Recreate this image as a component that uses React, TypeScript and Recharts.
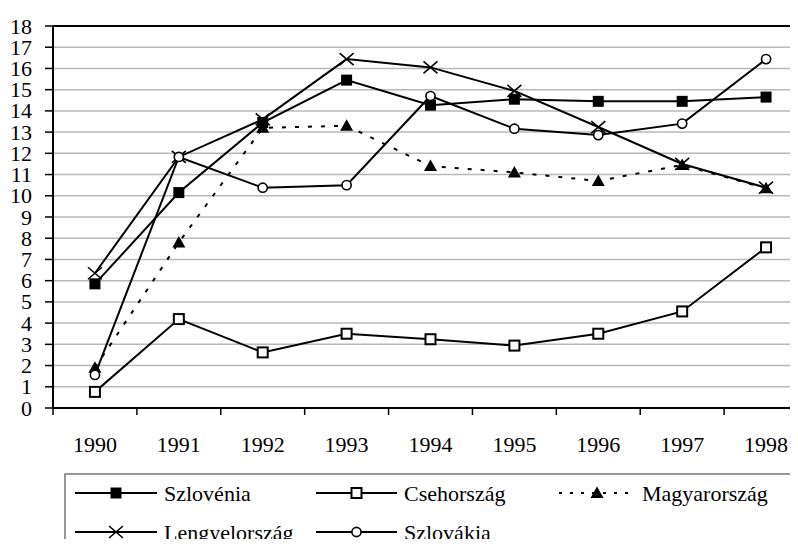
import React from "react";
import { LineChart, Line, XAxis, YAxis, CartesianGrid, ReferenceLine } from "recharts";

const YEARS = ["1990", "1991", "1992", "1993", "1994", "1995", "1996", "1997", "1998"];
const SZLOVENIA = [5.85, 10.15, 13.45, 15.45, 14.27, 14.55, 14.45, 14.45, 14.65];
const CSEHORSZAG = [0.76, 4.19, 2.62, 3.5, 3.24, 2.94, 3.5, 4.55, 7.57];
const MAGYARORSZAG = [1.9, 7.8, 13.2, 13.3, 11.4, 11.1, 10.7, 11.45, 10.35];
const LENGYELORSZAG = [6.35, 11.83, 13.6, 16.44, 16.05, 14.94, 13.24, 11.5, 10.38];
const SZLOVAKIA = [1.56, 11.83, 10.38, 10.5, 14.7, 13.16, 12.86, 13.4, 16.44];
const Y_TICKS = [0, 1, 2, 3, 4, 5, 6, 7, 8, 9, 10, 11, 12, 13, 14, 15, 16, 17, 18];

type Kind = "fsquare" | "osquare" | "triangle" | "cross" | "circle";

const SERIES: { key: string; name: string; kind: Kind; dashed: boolean; values: number[] }[] = [
  { key: "slo", name: "Szlovénia", kind: "fsquare", dashed: false, values: SZLOVENIA },
  { key: "cz", name: "Csehország", kind: "osquare", dashed: false, values: CSEHORSZAG },
  { key: "hu", name: "Magyarország", kind: "triangle", dashed: true, values: MAGYARORSZAG },
  { key: "pl", name: "Lengyelország", kind: "cross", dashed: false, values: LENGYELORSZAG },
  { key: "sk", name: "Szlovákia", kind: "circle", dashed: false, values: SZLOVAKIA },
];

const data = YEARS.map((year, i) => {
  const row: Record<string, string | number> = { year };
  for (const s of SERIES) row[s.key] = s.values[i];
  return row;
});

const W = 820;
const H = 539;
const MARGIN = { top: 18, right: 20, left: 5, bottom: 99 };
const Y_W = 40;
const PLOT_W = W - MARGIN.left - MARGIN.right - Y_W;
const FONT = "Liberation Serif, Times New Roman, DejaVu Serif, serif";
const textStyle: React.CSSProperties = { fontFamily: FONT, fontSize: 22 };

function marker(kind: Kind, cx: number, cy: number, key?: string | number) {
  switch (kind) {
    case "fsquare":
      return <rect key={key} x={cx - 5.5} y={cy - 5.5} width={11} height={11} fill="#000" />;
    case "osquare":
      return <rect key={key} x={cx - 5} y={cy - 5} width={10} height={10} fill="#fff" stroke="#000" strokeWidth={2} />;
    case "triangle":
      return <path key={key} d={`M${cx},${cy - 6.5} L${cx + 6.5},${cy + 5} L${cx - 6.5},${cy + 5} Z`} fill="#000" />;
    case "cross":
      return (
        <path key={key} d={`M${cx - 7},${cy - 6} L${cx + 7},${cy + 6} M${cx - 7},${cy + 6} L${cx + 7},${cy - 6}`}
              stroke="#000" strokeWidth={1.6} fill="none" />
      );
    default:
      return <circle key={key} cx={cx} cy={cy} r={4.6} fill="#fff" stroke="#000" strokeWidth={1.6} />;
  }
}

function YearTick(props: any) {
  const { x, y, payload } = props;
  const half = PLOT_W / YEARS.length / 2;
  return (
    <g>
      <line x1={x - half} x2={x - half} y1={y} y2={y + 7} stroke="#000" strokeWidth={1.5} />
      <text x={x} y={y + 36} textAnchor="middle" dominantBaseline="central" style={textStyle} fill="#000">
        {payload.value}
      </text>
    </g>
  );
}

function ValueTick(props: any) {
  const { x, y, payload } = props;
  return (
    <text x={x} y={y} textAnchor="end" dominantBaseline="central" style={textStyle} fill="#000">
      {payload.value}
    </text>
  );
}

// legend layout: columns (x start, line length) and row centres
const LEG_COLS = [{ x: 67, len: 82 }, { x: 308, len: 81 }, { x: 551, len: 76 }];
const LEG_ROWS = [485, 524];

function LegendBox() {
  return (
    <svg width={W} height={H} style={{ position: "absolute", left: 0, top: 0, pointerEvents: "none" }}>
      <rect x={57} y={466} width={728} height={120} fill="#fff" stroke="#777" strokeWidth={1.5} />
      {SERIES.map((s, i) => {
        const c = LEG_COLS[i % 3];
        const cy = LEG_ROWS[Math.floor(i / 3)];
        return (
          <g key={s.key}>
            <line x1={c.x} x2={c.x + c.len} y1={cy} y2={cy} stroke="#000" strokeWidth={s.dashed ? 1.8 : 2}
                  strokeDasharray={s.dashed ? "3 8" : undefined} />
            {marker(s.kind, c.x + c.len / 2, cy)}
            <text x={c.x + c.len + 7} y={cy} dominantBaseline="central" style={textStyle} fill="#000">
              {s.name}
            </text>
          </g>
        );
      })}
    </svg>
  );
}

export default function App() {
  return (
    <div style={{ position: "relative", width: 790, height: H, overflow: "hidden", marginBottom: -8, background: "#fff" }}>
      <LineChart width={W} height={H} data={data} margin={MARGIN}>
        <CartesianGrid vertical={false} stroke="#b8b8b8" strokeWidth={1.5} />
        <XAxis dataKey="year" scale="band" axisLine={{ stroke: "#000", strokeWidth: 2 }} tickLine={false}
               tickSize={0} tickMargin={0} interval={0} height={40} tick={<YearTick />} />
        <YAxis domain={[0, 18]} ticks={Y_TICKS} interval={0} width={Y_W}
               axisLine={{ stroke: "#000", strokeWidth: 2 }} tickLine={{ stroke: "#000", strokeWidth: 1.5 }}
               tickSize={8} tickMargin={13} tick={<ValueTick />} />
        <ReferenceLine y={18} stroke="#000" strokeWidth={2} />
        {SERIES.map((s) => (
          <Line key={s.key} dataKey={s.key} name={s.name} stroke="#000" strokeWidth={2}
                strokeDasharray={s.dashed ? "4 9" : undefined} isAnimationActive={false}
                dot={(p: any) => marker(s.kind, p.cx, p.cy, `${s.key}-${p.index}`)}
                activeDot={false} />
        ))}
      </LineChart>
      <LegendBox />
    </div>
  );
}
